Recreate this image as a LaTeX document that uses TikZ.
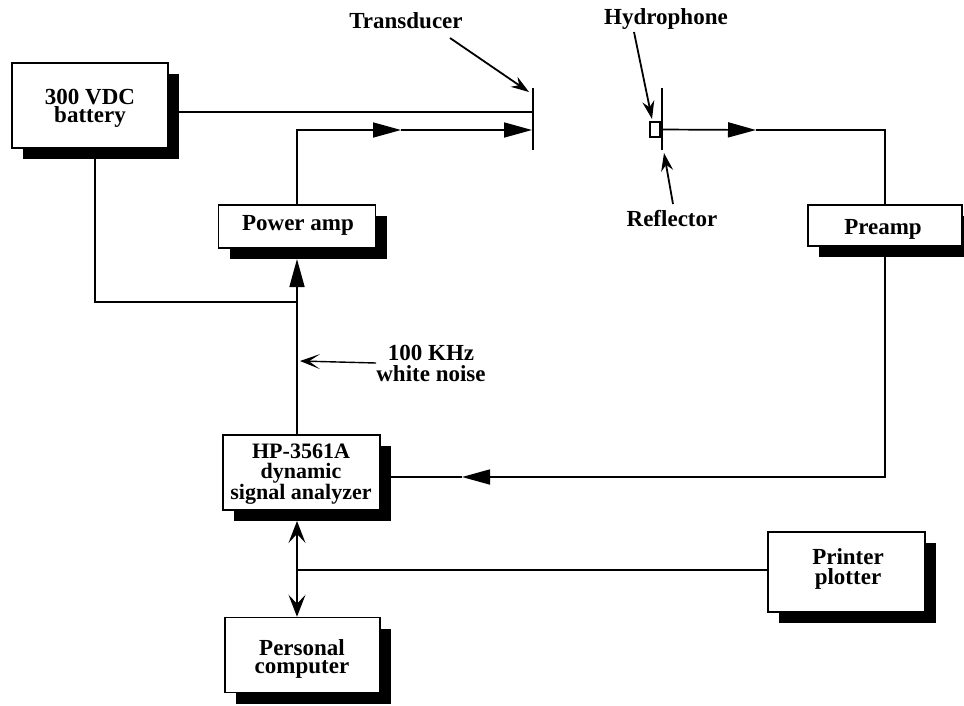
\documentclass[tikz,border=0pt]{standalone}
\usepackage{fontspec}
\setmainfont{Liberation Serif}
\usetikzlibrary{arrows.meta,backgrounds,calc,shadows}
\begin{document}
\begin{tikzpicture}[x=1pt,y=-1pt,
  box/.style={draw, line width=1.5pt, fill=white, inner sep=0pt,
    drop shadow={shadow xshift=11pt, shadow yshift=-11pt, opacity=1, fill=black}},
  txt/.style={inner sep=0pt, align=center, font=\fontsize{23}{18}\selectfont\bfseries},
  lab/.style={inner sep=0pt, align=center, font=\fontsize{23}{21}\selectfont\bfseries},
  wire/.style={line width=1.7pt},
  sig/.style={wire, arrows={-Triangle[length=28pt,width=15pt]}},
  ann/.style={line width=1.8pt, arrows={-Stealth[length=18pt,width=12pt,inset=6pt]}},
  noisearr/.style={line width=1.4pt, arrows={-Stealth[length=20pt,width=15pt,inset=11pt]}},
  bidir/.style={wire, arrows={Stealth[length=22pt,width=17pt,inset=9pt]-Stealth[length=22pt,width=17pt,inset=9pt]}},
  plate/.style={line width=2.2pt}
  ]
\useasboundingbox (0,0) rectangle (964,705);

% boxes
\node[box, minimum width=156pt, minimum height=85pt] (bat) at (90,105.5) {};
\node[box, minimum width=157pt, minimum height=43pt] (pamp) at (297,226.5) {};
\node[box, minimum width=154pt, minimum height=41pt] (pre) at (885,225.5) {};
\node[box, minimum width=157pt, minimum height=75pt] (hp) at (301.5,472.5) {};
\node[box, minimum width=155pt, minimum height=75pt] (pc) at (302.5,655) {};
\node[box, minimum width=157pt, minimum height=80pt] (prn) at (846.5,572) {};

% box texts
\node[txt] (batT) at (90,108.5) {300 VDC\\battery};
\node[txt] (pampT) at (298,225) {Power amp};
\node[txt] (preT) at (883,229) {Preamp};
\node[txt, font=\fontsize{22}{20}\selectfont\bfseries] (hpT) at (301,474) {HP-3561A\\dynamic\\signal analyzer};
\node[txt] (pcT) at (302,659) {Personal\\computer};
\node[txt, font=\fontsize{23}{20}\selectfont\bfseries] (prnT) at (848,568.5) {Printer\\plotter};

% labels
\node[lab] (trl) at (406,20.5) {Transducer};
\node[lab] (hyl) at (666,19) {Hydrophone};
\node[lab] (rfl) at (672,219) {Reflector};
\node[lab] (nzl) at (431,363) {100 KHz\\white noise};

% hydrophone square
\node[draw, line width=1.5pt, minimum width=10pt, minimum height=15pt, inner sep=0pt, fill=white] (hsq) at (655,129.5) {};

% coordinates
\coordinate (tT) at (533,88);
\coordinate (tB) at (533,150);
\coordinate (tBat) at (533,112);
\coordinate (tAmp) at (532,130);
\coordinate (mAmp) at (401,130);
\coordinate (hT) at (662,88);
\coordinate (hB) at (662,150);
\coordinate (mHyd) at (756,130);
\coordinate (jn) at (297,302);
\coordinate (mRet) at (462,477);
\coordinate (noiseTip) at (300,361);
\coordinate (hpS) at (297,521);
\coordinate (pampS) at (297,259);
\coordinate (jpc) at (297,570);
\coordinate (trA) at (450,38);
\coordinate (trB) at (529,92);
\coordinate (hyA) at (634,32);
\coordinate (hyB) at (652,119);
\coordinate (rfA) at (673,204);
\coordinate (rfB) at (664,153);

\begin{pgfonlayer}{background}
\draw[wire] (bat.east |- tBat) -- (tBat);
\draw[sig] (pamp.north) |- (mAmp);
\draw[sig] (mAmp) -- (tAmp);
\draw[wire] ([xshift=5pt]bat.south) |- (jn);
\draw[sig] (hp.north -| pamp.north) -- (pampS);
\draw[sig] (pre.south) |- (mRet);
\draw[wire] (mRet) -- (mRet -| hp.east);
\draw[sig] (hsq.east) -- (mHyd);
\draw[wire] (mHyd) -| (pre.north);
\draw[bidir] (hpS) -- (pc.north -| hpS);
\draw[wire] (jpc) -- (jpc -| prn.west);
\end{pgfonlayer}

\draw[plate] (tT) -- (tB);
\draw[plate] (hT) -- (hB);
\draw[noisearr] (nzl.west) -- (noiseTip);
\draw[ann] (trA) -- (trB);
\draw[ann] (hyA) -- (hyB);
\draw[ann] (rfA) -- (rfB);
\end{tikzpicture}
\end{document}
